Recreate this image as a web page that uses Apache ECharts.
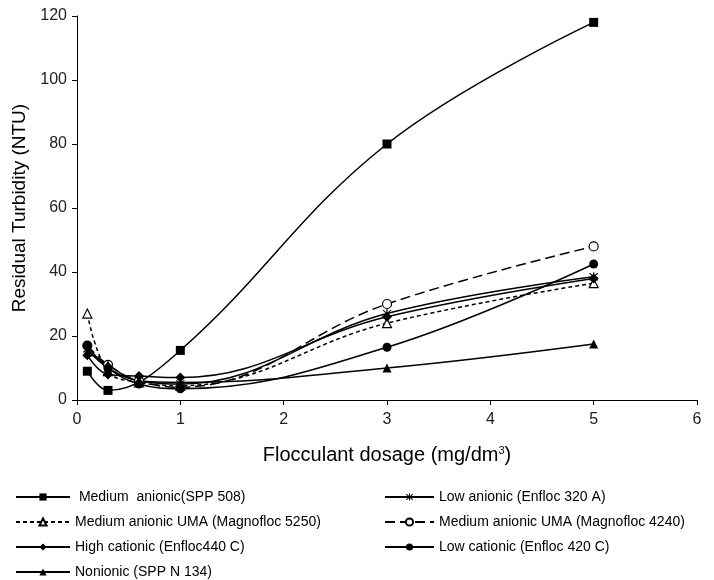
<!DOCTYPE html>
<html>
<head>
<meta charset="utf-8">
<script src="https://cdn.jsdelivr.net/npm/echarts@6/dist/echarts.min.js"></script>
<style>
    html, body { margin: 0; padding: 0; background: #fff; }
</style>
</head>
<body>
<div id="main" style="width:714px;height:580px;"></div>
<script type="text/javascript">
    // dosage values (mg/dm3)
    var dosesShort = [0.1, 0.3, 1, 3, 5];
    var dosesFull = [0.1, 0.3, 0.6, 1, 3, 5];

    // residual turbidity (NTU) per flocculant
    var spp508 = [9, 3, 15.5, 80, 118];
    var enfloc320A = [16, 10, 6, 5, 27, 38.5];
    var magnofloc5250 = [27, 9, 5.5, 4.5, 24, 36.5];
    var magnofloc4240 = [17, 11, 6, 4, 30, 48];
    var enfloc440C = [14, 8, 7.5, 7, 26, 38];
    var enfloc420C = [17, 10, 5, 3.5, 16.5, 42.5];
    var sppN134 = [15, 11, 6, 5.5, 10, 17.5];

    var names = [
        ' Medium  anionic(SPP 508)',
        'Low anionic (Enfloc 320 A)',
        'Medium anionic UMA (Magnofloc 5250)',
        'Medium anionic UMA (Magnofloc 4240)',
        'High cationic (Enfloc440 C)',
        'Low cationic (Enfloc 420 C)',
        'Nonionic (SPP N 134)'
    ];

    var yTicks = [0, 20, 40, 60, 80, 100, 120];

    // asterisk marker
    var starPath = 'path://M4.4,0H5.6V10H4.4Z M0.4,1.4L1.2,0.6L9.6,8.6L8.8,9.4Z M9.6,1.4L8.8,0.6L0.4,8.6L1.2,9.4Z';

    function pairs(xs, ys) {
        var out = [];
        for (var i = 0; i < ys.length; i++) {
            out.push([xs[i], ys[i]]);
        }
        return out;
    }

    function makeSeries(name, xs, ys, symbol, fill, dash) {
        return {
            name: name,
            type: 'line',
            smooth: 0.4,
            data: pairs(xs, ys),
            symbol: symbol,
            symbolSize: symbol === 'diamond' ? 10 : 9,
            showAllSymbol: true,
            lineStyle: { color: '#000', width: 1.5, type: dash || 'solid' },
            itemStyle: { color: fill, borderColor: '#000', borderWidth: fill === '#fff' ? 1.2 : 0 },
            emphasis: { disabled: true }
        };
    }

    var myChart = echarts.init(document.getElementById('main'));

    var legendText = {
        fontFamily: '"Liberation Sans Narrow", "Liberation Sans", Arial, sans-serif',
        fontSize: 14,
        color: '#000'
    };

    var option = {
        animation: false,
        backgroundColor: '#fff',
        grid: { left: 77, right: 17, top: 16, bottom: 180 },
        legend: [{
            orient: 'vertical',
            left: 10,
            top: 485,
            height: 100,
            itemWidth: 54,
            itemHeight: 9,
            itemGap: 11,
            textStyle: legendText,
            data: [names[0], names[2], names[4], names[6]]
        }, {
            orient: 'vertical',
            left: 379,
            top: 485,
            height: 100,
            itemWidth: 49,
            itemHeight: 9,
            itemGap: 11,
            textStyle: legendText,
            data: [names[1], names[3], names[5]]
        }],
        xAxis: {
            type: 'value',
            min: 0,
            max: 6,
            interval: 1,
            name: '{a|Flocculant dosage (mg/dm}{s|3}{a|)}',
            nameLocation: 'middle',
            nameGap: 45,
            nameTextStyle: {
                rich: {
                    a: { fontFamily: '"Liberation Sans", Arial, sans-serif', fontSize: 20, color: '#000' },
                    s: { fontFamily: '"Liberation Sans", Arial, sans-serif', fontSize: 11, color: '#000', verticalAlign: 'top', padding: [0, 0, 10, 0] }
                }
            },
            axisLine: { lineStyle: { color: '#000', width: 1 } },
            axisTick: { show: true, length: 5, lineStyle: { color: '#000' } },
            axisLabel: { fontFamily: '"Liberation Sans", Arial, sans-serif', fontSize: 16, color: '#222', margin: 12 },
            splitLine: { show: false }
        },
        yAxis: {
            type: 'value',
            min: yTicks[0],
            max: yTicks[yTicks.length - 1],
            interval: 20,
            name: 'Residual Turbidity (NTU)',
            nameLocation: 'middle',
            nameGap: 48,
            nameTextStyle: { fontFamily: '"Liberation Sans", Arial, sans-serif', fontSize: 19, color: '#000' },
            axisLine: { show: true, lineStyle: { color: '#000', width: 1 } },
            axisTick: { show: true, length: 5, lineStyle: { color: '#000' } },
            axisLabel: { fontFamily: '"Liberation Sans", Arial, sans-serif', fontSize: 16, color: '#222', margin: 10 },
            splitLine: { show: false }
        },
        series: [
            makeSeries(names[0], dosesShort, spp508, 'rect', '#000'),
            makeSeries(names[1], dosesFull, enfloc320A, starPath, '#000'),
            makeSeries(names[2], dosesFull, magnofloc5250, 'triangle', '#fff', [4, 3]),
            makeSeries(names[3], dosesFull, magnofloc4240, 'circle', '#fff', [10, 5]),
            makeSeries(names[4], dosesFull, enfloc440C, 'diamond', '#000'),
            makeSeries(names[5], dosesFull, enfloc420C, 'circle', '#000'),
            makeSeries(names[6], dosesFull, sppN134, 'triangle', '#000')
        ]
    };

    myChart.setOption(option);
</script>
</body>
</html>
